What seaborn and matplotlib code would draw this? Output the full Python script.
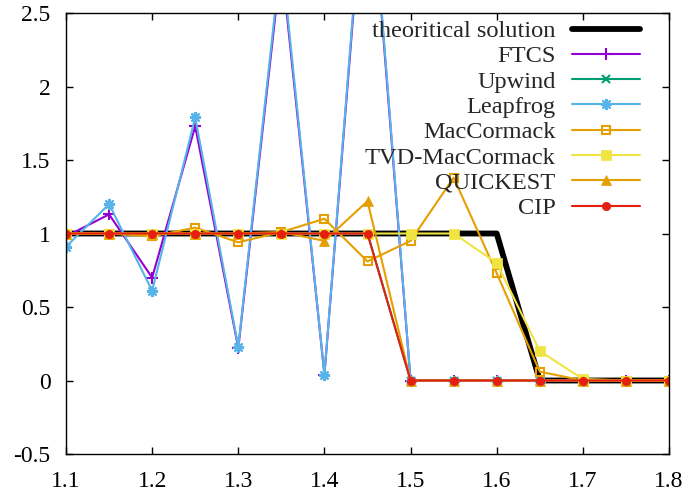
import matplotlib
matplotlib.use("Agg")
import matplotlib.pyplot as plt
import seaborn as sns

# grid positions
x = [1.10, 1.15, 1.20, 1.25, 1.30, 1.35, 1.40, 1.45, 1.50, 1.55, 1.60, 1.65, 1.70, 1.75, 1.80]

# solutions at the final time step
theory = [1, 1, 1, 1, 1, 1, 1, 1, 1, 1, 1, 0, 0, 0, 0]
ftcs = [0.98, 1.13, 0.70, 1.73, 0.22, 2.85, 0.04, 3.70, 0, 0, 0, 0, 0, 0, 0]
upwind = [1, 1, 1, 1, 1, 1, 1, 1, 0, 0, 0, 0, 0, 0, 0]
leapfrog = [0.91, 1.20, 0.61, 1.79, 0.23, 2.90, 0.04, 3.75, 0, 0, 0, 0, 0, 0, 0]
maccormack = [1.00, 1.00, 0.98, 1.04, 0.94, 1.01, 1.10, 0.81, 0.95, 1.38, 0.73, 0.06, 0, 0, 0]
tvd_maccormack = [1, 1, 1, 1, 1, 1, 1, 1, 1, 1, 0.80, 0.20, 0.01, 0, 0]
quickest = [1, 1, 1, 1, 1, 1.01, 0.95, 1.22, 0, 0, 0, 0, 0, 0, 0]
cip = [1, 1, 1, 1, 1, 1, 1, 1, 0, 0, 0, 0, 0, 0, 0]

labels = ["theoritical solution", "FTCS", "Upwind", "Leapfrog", "MacCormack",
          "TVD-MacCormack", "QUICKEST", "CIP"]

xticks = [1.1, 1.2, 1.3, 1.4, 1.5, 1.6, 1.7, 1.8]
yticks = [-0.5, 0, 0.5, 1, 1.5, 2, 2.5]
ytick_labels = ["-0.5", "0", "0.5", "1", "1.5", "2", "2.5"]

sns.set_theme(style="ticks")
plt.rcParams["font.family"] = ["Liberation Serif", "DejaVu Serif"]

FS_TICK = 17
FS_LEG = 17.6

fig = plt.figure(figsize=(6.89, 4.94), dpi=100)
ax = fig.add_axes([66 / 689, 1 - 454 / 494, (669 - 66) / 689, (454 - 13) / 494])


def style(color, marker=None, size=6, edge=1.5, face=None, lw=1.5):
    kw = dict(color=color, linewidth=lw, linestyle="-")
    if marker is not None:
        kw.update(marker=marker, markersize=size, markeredgewidth=edge,
                  markeredgecolor=color,
                  markerfacecolor=color if face is None else face)
    return kw


series = [
    (theory, style("black", lw=4.2)),
    (ftcs, style("#9400d3", "+", size=8)),
    (upwind, style("#009e73", "x", size=6)),
    (leapfrog, style("#56b4e9", (8, 2, 0), size=8)),
    (maccormack, style("#e69f00", "s", size=6, face="none")),
    (tvd_maccormack, style("#f0e442", "s", size=7, edge=0.5)),
    (quickest, style("#e69f00", "^", size=7.5, edge=0.5)),
    (cip, style("#e51e10", "o", size=6, edge=0.5)),
]

for (vals, kw), lab in zip(series, labels):
    sns.lineplot(x=x, y=vals, ax=ax, label=lab, sort=False, **kw)

ax.set_xlim(1.1, 1.8)
ax.set_ylim(-0.5, 2.5)
ax.set_xticks(xticks)
ax.set_xticklabels([f"{t:.1f}" for t in xticks])
ax.set_yticks(yticks)
ax.set_yticklabels(ytick_labels)
ax.set_xlabel("")
ax.set_ylabel("")

for s in ax.spines.values():
    s.set_visible(True)
    s.set_color("black")
    s.set_linewidth(1.0)

ax.tick_params(axis="both", direction="in", length=5, width=1, colors="black",
               top=True, right=True, labelsize=FS_TICK)
ax.tick_params(axis="y", pad=11)
ax.tick_params(axis="x", pad=12)

leg = ax.legend(loc="upper right", bbox_to_anchor=(640 / 689, 1 - 20 / 494),
                bbox_transform=fig.transFigure, frameon=False, markerfirst=False,
                fontsize=FS_LEG, handlelength=2.8, handletextpad=0.65,
                labelspacing=0.13, borderpad=0, borderaxespad=0)

fig.savefig("out.png", dpi=100)
